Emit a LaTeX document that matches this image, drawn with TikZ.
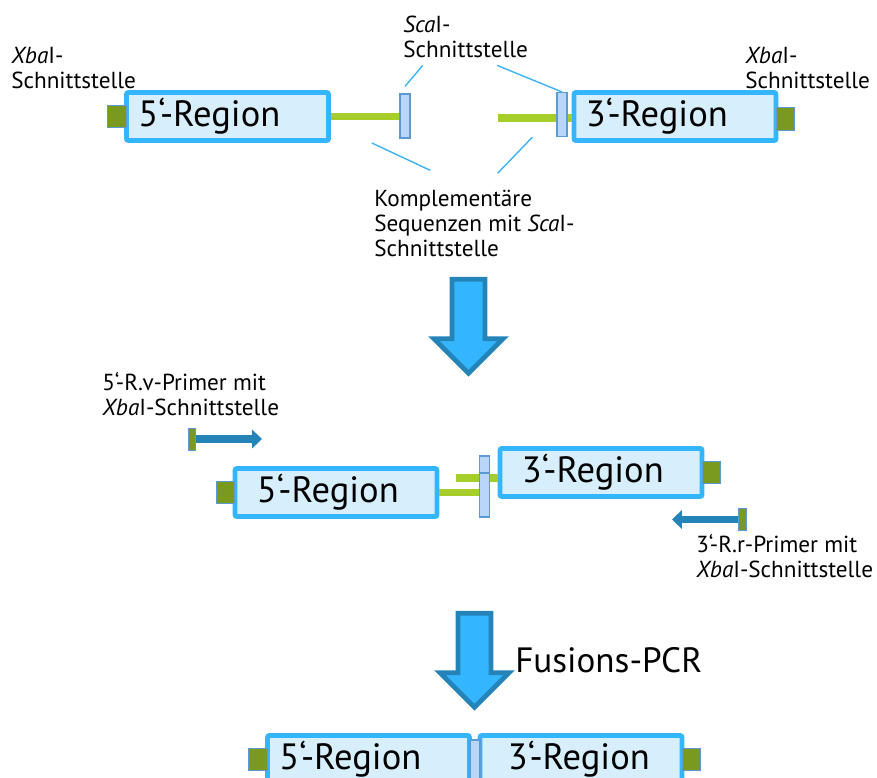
\documentclass[tikz,border=0pt]{standalone}
\usepackage{fontspec}
\setmainfont{PT Sans}
\usetikzlibrary{arrows.meta,positioning,calc,shapes.arrows}
\definecolor{boxblue}{HTML}{33B5FF}
\definecolor{boxfill}{HTML}{D7EEFC}
\definecolor{xbagreen}{HTML}{7A9A1F}
\definecolor{linkgreen}{HTML}{A6CE2A}
\definecolor{scafill}{HTML}{B9D5F7}
\definecolor{scaedge}{HTML}{5B9BD5}
\definecolor{darkblue}{HTML}{2484B8}
\definecolor{leadblue}{HTML}{3DB4F2}

\begin{document}
\begin{tikzpicture}[x=0.025cm, y=-0.025cm,
  every node/.style={font=\fontsize{16.5}{17.8}\selectfont},
  region/.style={draw=boxblue, line width=3.5pt, fill=boxfill, rounded corners=1.5pt,
                 minimum width=5.05cm, minimum height=1.2cm, text width=4.45cm,
                 inner xsep=0.3cm, align=left, font=\fontsize{26}{28}\selectfont},
  xba/.style={draw=scaedge, line width=0.6pt, fill=xbagreen, minimum width=0.47cm,
              minimum height=0.57cm, inner sep=0},
  sca/.style={draw=scaedge, line width=0.8pt, fill=scafill, minimum width=0.25cm,
              minimum height=1.1cm, inner sep=0},
  tag/.style={draw=scaedge, line width=0.5pt, fill=xbagreen, minimum width=0.19cm,
              minimum height=0.55cm, inner sep=0},
  linker/.style={linkgreen, line width=5pt},
  lead/.style={leadblue, line width=1pt},
  primer/.style={darkblue, line width=5pt, -{Triangle[length=7pt,width=13pt]}},
  bigarrow/.style={single arrow, draw=darkblue, fill=boxblue, line width=3.5pt,
                   rotate=-90, minimum height=2.35cm, inner xsep=0, inner ysep=0.35cm,
                   single arrow head extend=0.45cm},
  note/.style={align=left, anchor=north west, inner sep=0},
]
  \useasboundingbox (0,0) rectangle (877,778);
  \clip (0,0) rectangle (877,778);

  % Top row: two separate regions
  \node[region] (fiveA) at (227.5,116.5) {5‘-Region};
  \node[xba, anchor=east] (xbaA) at ([xshift=2pt]fiveA.west) {};
  \node[sca] (scaA) at (405,116) {};
  \draw[linker] (fiveA.east) -- (fiveA.east -| scaA.west);

  \node[region] (threeA) at (675,116.5) {3‘-Region};
  \node[xba, anchor=west] (xbaB) at ([xshift=-2pt,yshift=-1.5pt]threeA.east) {};
  \coordinate (endB) at (498,118);
  \draw[linker] (endB) -- (endB -| threeA.west);
  \node[sca] (scaB) at (562,114.5) {};

  \node[note] (xbaLabA) at (11,47) {\textit{Xba}I-\\Schnittstelle};
  \node[note] (scaLab) at (403,16) {\textit{Sca}I-\\Schnittstelle};
  \node[note] (xbaLabB) at (745,47) {\textit{Xba}I-\\Schnittstelle};
  \node[note] (compLab) at (374,190)
    {Komplementäre\\Sequenzen mit \textit{Sca}I-\\Schnittstelle};

  \draw[lead] ([xshift=14pt,yshift=-5pt]scaLab.south west) -- ([yshift=5pt]scaA.north);
  \draw[lead] ([xshift=67pt,yshift=-5pt]scaLab.south west) -- (scaB.north);
  \draw[lead] ([xshift=29pt]fiveA.south east) -- ([xshift=40pt,yshift=14pt]compLab.north west);
  \draw[lead] ([xshift=-21pt]scaB.south) -- ([xshift=88pt,yshift=12pt]compLab.north west);

  \node[bigarrow] (stepA) at (468.5,318) {};

  % Middle row: annealed regions with primers
  \node[note] (fwdLab) at (102,372) {5‘-R.v-Primer mit\\\textit{Xba}I-Schnittstelle};
  \node[tag] (fwdTag) at (192,439) {};
  \coordinate (fwdTip) at (262,439);
  \draw[primer] (fwdTag.east) -- (fwdTip);

  \node[region] (fiveB) at (336,492.5) {\hspace*{0.25cm}5‘-Region};
  \node[xba, anchor=east] (xbaC) at ([xshift=2pt]fiveB.west) {};
  \node[region] (threeB) at (601,472.5) {\hspace*{0.25cm}3‘-Region};
  \node[xba, anchor=west] (xbaD) at ([xshift=-2pt]threeB.east) {};

  \coordinate (endC) at (456,478);
  \draw[linker] (endC) -- (endC -| threeB.west);
  \coordinate (endD) at (484,492.5);
  \draw[linker] (fiveB.east) -- (endD);
  \node[sca] (scaC) at (484.5,478) {};
  \node[sca] (scaD) at (484.5,495) {};

  \node[tag] (revTag) at (742.5,519.5) {};
  \coordinate (revTip) at (672,519.5);
  \draw[primer] (revTag.west) -- (revTip);
  \node[note] (revLab) at (696,534) {3‘-R.r-Primer mit\\\textit{Xba}I-Schnittstelle};

  \node[bigarrow] (stepB) at (474.5,652) {};
  \node[anchor=west, inner sep=0, font=\fontsize{25}{28}\selectfont] (pcrLab)
    at (515,660) {Fusions-PCR};

  % Bottom row: fused product
  \node[region] (fiveC) at (368.5,759.5) {5‘-Region};
  \node[xba, anchor=east] (xbaE) at ([xshift=2pt]fiveC.west) {};
  \node[region] (threeC) at (581,759.5) {\hspace*{0.4cm}3‘-Region};
  \node[xba, anchor=west] (xbaF) at ([xshift=-2pt]threeC.east) {};
  \node[sca] (scaE) at (475,762) {};
\end{tikzpicture}
\end{document}
